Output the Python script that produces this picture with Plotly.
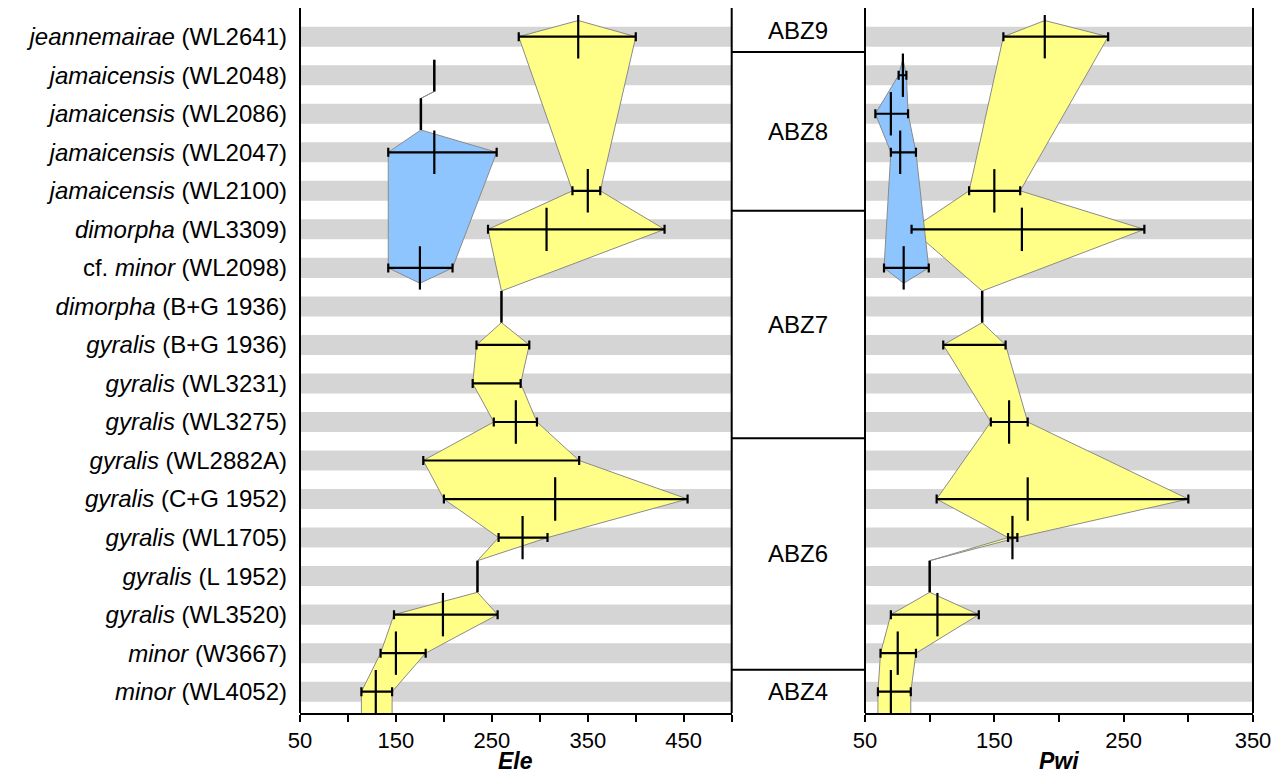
import plotly.graph_objects as go

# ---------------- data ----------------
ROW_LABELS = [
    "<i>jeannemairae</i> (WL2641)",
    "<i>jamaicensis</i> (WL2048)",
    "<i>jamaicensis</i> (WL2086)",
    "<i>jamaicensis</i> (WL2047)",
    "<i>jamaicensis</i> (WL2100)",
    "<i>dimorpha</i> (WL3309)",
    "cf. <i>minor</i> (WL2098)",
    "<i>dimorpha</i> (B+G 1936)",
    "<i>gyralis</i> (B+G 1936)",
    "<i>gyralis</i> (WL3231)",
    "<i>gyralis</i> (WL3275)",
    "<i>gyralis</i> (WL2882A)",
    "<i>gyralis</i> (C+G 1952)",
    "<i>gyralis</i> (WL1705)",
    "<i>gyralis</i> (L 1952)",
    "<i>gyralis</i> (WL3520)",
    "<i>minor</i> (W3667)",
    "<i>minor</i> (WL4052)",
]

# Ele
ELE_MIN = [278, None, None, 142, 334, 246, 142, None, 234, 230, 252, 178.5, 200, 257, None, 148, 134, 114]
ELE_MAX = [400, None, None, 255, 363, 430, 209, None, 289, 280, 297, 341, 454, 308, None, 256, 181, 146]
ELE_MEAN = [340, None, None, 190, 350, 307, 175, None, None, None, 275, None, 316, 282, None, 199, 150, 129]
ELE_SINGLE = [None, 190, 176, None, None, None, None, 260, None, None, None, None, None, None, 235, None, None, None]

# Pwi
PWI_MIN = [157, 76, 58, 70, 130.5, 86, 64.7, None, 110.5, None, 147.3, None, 105.4, 160.6, None, 70, 62, 60]
PWI_MAX = [238, 82, 83.3, 89.4, 170, 266, 99.3, None, 158.7, None, 175.8, None, 300, 167.8, None, 138, 89.4, 85.4]
PWI_MEAN = [189, 79.3, 70, 77.2, 150, 171.3, 79.9, None, None, None, 161.4, None, 175.8, 164, None, 106, 75.3, 70]
PWI_SINGLE = [None, None, None, None, None, None, None, 140.6, None, None, None, None, None, None, 100, None, None, None]

# lineages (row numbers, 1 = top)
YELLOW_ROWS = [1, 5, 6, 8, 9, 10, 11, 12, 13, 14, 15, 16, 17, 18]
BLUE_ROWS = [2, 3, 4, 7]

# biozones: names and boundaries in row units
ZONE_NAMES = ["ABZ9", "ABZ8", "ABZ7", "ABZ6", "ABZ4"]
ZONE_BOUNDS = [1.40, 5.52, 11.42, 17.43]

ELE_TICKS = [50, 100, 150, 200, 250, 300, 350, 400, 450, 500]
ELE_LABELED = [50, 150, 250, 350, 450]
PWI_TICKS = [50, 100, 150, 200, 250, 300, 350]
PWI_LABELED = [50, 150, 250, 350]

# ---------------- style ----------------
YELLOW = "#FFFF88"
BLUE = "#8EC5FF"
STRIPE = "#d5d5d5"
OUTLINE = "#8a8a8a"
FONT = "Liberation Sans, Arial, sans-serif"
N = len(ROW_LABELS)
Y_TOP, Y_BOT = 0.255, 18.553
APEX_UP, APEX_DN = 0.42, 0.40
LINE_UP, LINE_DN = 0.40, 0.42
EXT = 0.7
D1, D2 = 431.7 / 953, 565.0 / 953

fig = go.Figure()


def envelope(rows, mins, maxs, means, singles):
    nodes = []
    members = [r for r in rows if singles[r - 1] is not None or mins[r - 1] is not None]
    for k, r in enumerate(members):
        j = r - 1
        if singles[j] is not None:
            v = singles[j]
            nodes.append((r - LINE_UP, v, v))
            nodes.append((r + LINE_DN, v, v))
        else:
            if k == 0:
                nodes.append((r - APEX_UP, means[j], means[j]))
            nodes.append((r, mins[j], maxs[j]))
            if k == len(members) - 1:
                if r == N:
                    nodes.append((r + EXT, mins[j], maxs[j]))
                else:
                    nodes.append((r + APEX_DN, means[j], means[j]))
    xs = [n[1] for n in nodes] + [n[2] for n in reversed(nodes)]
    ys = [n[0] for n in nodes] + [n[0] for n in reversed(nodes)]
    return xs, ys


def add_panel(xa, ya, mins, maxs, means, singles):
    for rows, col in [(YELLOW_ROWS, YELLOW), (BLUE_ROWS, BLUE)]:
        xs, ys = envelope(rows, mins, maxs, means, singles)
        fig.add_trace(go.Scatter(x=xs, y=ys, xaxis=xa, yaxis=ya, mode="lines",
                                 fill="toself", fillcolor=col,
                                 line=dict(color=OUTLINE, width=1), hoverinfo="skip"))
    # range bars
    ry, mid, plus, minus = [], [], [], []
    for j in range(N):
        if mins[j] is not None:
            m = (mins[j] + maxs[j]) / 2
            ry.append(j + 1)
            mid.append(m)
            plus.append(maxs[j] - m)
            minus.append(m - mins[j])
    fig.add_trace(go.Scatter(x=mid, y=ry, xaxis=xa, yaxis=ya, mode="markers",
                             marker=dict(size=1, opacity=0),
                             error_x=dict(type="data", symmetric=False, array=plus,
                                          arrayminus=minus, color="black",
                                          thickness=2.2, width=4.5)))
    # mean ticks
    my = [j + 1 for j in range(N) if means[j] is not None]
    mx = [means[j] for j in range(N) if means[j] is not None]
    fig.add_trace(go.Scatter(x=mx, y=my, xaxis=xa, yaxis=ya, mode="markers",
                             marker=dict(symbol="line-ns", size=31,
                                         line=dict(color="black", width=2.2))))
    # single-value lines
    for j in range(N):
        if singles[j] is not None:
            fig.add_trace(go.Scatter(x=[singles[j], singles[j]],
                                     y=[j + 1 - LINE_UP, j + 1 + LINE_DN],
                                     xaxis=xa, yaxis=ya, mode="lines",
                                     line=dict(color="black", width=2.5)))


add_panel("x", "y", ELE_MIN, ELE_MAX, ELE_MEAN, ELE_SINGLE)
add_panel("x3", "y3", PWI_MIN, PWI_MAX, PWI_MEAN, PWI_SINGLE)
# empty trace so the middle (zone column) subplot exists
fig.add_trace(go.Scatter(x=[0.5], y=[1], xaxis="x2", yaxis="y2", mode="markers",
                         marker=dict(opacity=0), hoverinfo="skip"))

shapes = []
for i in range(1, N + 1):
    for xr in ["x domain", "x3 domain"]:
        shapes.append(dict(type="rect", xref=xr, yref="y", x0=0, x1=1,
                           y0=i - 0.26, y1=i + 0.26, fillcolor=STRIPE,
                           line=dict(width=0), layer="below"))
for xr in ["x domain", "x3 domain"]:
    for xv in [0, 1]:
        shapes.append(dict(type="line", xref=xr, yref="paper", x0=xv, x1=xv,
                           y0=0, y1=1, line=dict(color="black", width=2), layer="above"))
for b in ZONE_BOUNDS:
    shapes.append(dict(type="line", xref="x2 domain", yref="y", x0=0, x1=1,
                       y0=b, y1=b, line=dict(color="black", width=2), layer="above"))

annotations = []
edges = [Y_TOP] + ZONE_BOUNDS + [Y_BOT]
for k, name in enumerate(ZONE_NAMES):
    annotations.append(dict(xref="x2 domain", yref="y", x=0.5,
                            y=(edges[k] + edges[k + 1]) / 2, text=name,
                            showarrow=False, font=dict(size=24, family=FONT)))
for xr, t in [("x domain", "Ele"), ("x3 domain", "Pwi")]:
    annotations.append(dict(xref=xr, yref="paper", x=0.5, y=0, yanchor="middle",
                            yshift=-48, text="<b><i>" + t + "</i></b>",
                            showarrow=False, borderpad=0,
                            font=dict(size=23, family=FONT)))

axis_common = dict(ticks="outside", ticklen=7, tickwidth=2, tickcolor="black",
                   showline=True, linewidth=2, linecolor="black", showgrid=False,
                   zeroline=False, tickfont=dict(size=22, family=FONT))

# the page body adds an 8 px offset, so the figure is 8 px smaller each way
fig.update_layout(
    width=1279, height=768,
    margin=dict(l=292, r=34, t=0, b=63),
    plot_bgcolor="white", paper_bgcolor="white", showlegend=False,
    font=dict(family=FONT, color="black"),
    xaxis=dict(domain=[0, D1], range=[50, 500], anchor="y", tickmode="array",
               tickvals=ELE_TICKS,
               ticktext=[str(v) if v in ELE_LABELED else "" for v in ELE_TICKS],
               **axis_common),
    xaxis2=dict(domain=[D1, D2], range=[0, 1], anchor="y2", visible=False),
    xaxis3=dict(domain=[D2, 1], range=[50, 350], anchor="y3", tickmode="array",
                tickvals=PWI_TICKS,
                ticktext=[str(v) if v in PWI_LABELED else "" for v in PWI_TICKS],
                **axis_common),
    yaxis=dict(domain=[0, 1], range=[Y_BOT, Y_TOP], anchor="x", tickmode="array",
               tickvals=list(range(1, N + 1)), ticktext=ROW_LABELS, ticks="",
               showline=False, showgrid=False, zeroline=False,
               ticklabelstandoff=12, tickfont=dict(size=24, family=FONT)),
    yaxis2=dict(domain=[0, 1], range=[Y_BOT, Y_TOP], anchor="x2", matches="y",
                visible=False),
    yaxis3=dict(domain=[0, 1], range=[Y_BOT, Y_TOP], anchor="x3", matches="y",
                visible=False),
    shapes=shapes, annotations=annotations,
)

fig.write_html("out.html")
